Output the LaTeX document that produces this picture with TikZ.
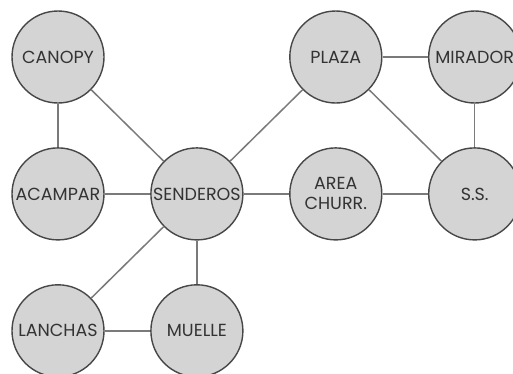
\documentclass[tikz,border=0pt]{standalone}
\usepackage{fontspec}
\setmainfont{Poppins}
\usetikzlibrary{positioning}
\definecolor{SpotFill}{HTML}{D4D4D4}
\definecolor{SpotLine}{HTML}{474747}
\definecolor{SpotText}{HTML}{333333}
\definecolor{TrailGray}{HTML}{7A7A7A}
\tikzset{
  spot/.style={circle, draw=SpotLine, fill=SpotFill, line width=1.4pt, minimum size=92pt, inner sep=0pt, align=center, text=SpotText, font=\fontsize{17.5}{20}\selectfont},
  trail/.style={draw=TrailGray, line width=1.5pt}
}
\begin{document}
\begin{tikzpicture}[x=1pt, y=-1pt, node distance=43.5pt and 45.5pt]
  \useasboundingbox[fill=white] (0,0) rectangle (513,373);
  \node[spot] (canopy) at (58,57) {CANOPY};
  \node[spot,below=of canopy] (acampar) {ACAMPAR};
  \node[spot,below=of acampar] (lanchas) {LANCHAS};
  \node[spot,right=of acampar] (senderos) {SENDEROS};
  \node[spot,right=of lanchas] (muelle) {MUELLE};
  \node[spot,right=of senderos] (area) {AREA\\CHURR.};
  \node[spot,right=of area] (ss) {S.S.};
  \node[spot,above=of area] (plaza) {PLAZA};
  \node[spot,above=of ss] (mirador) {MIRADOR};

  \draw[trail] (canopy) -- (acampar);
  \draw[trail] (canopy) -- (senderos);
  \draw[trail] (acampar) -- (senderos);
  \draw[trail] (senderos) -- (area);
  \draw[trail] (senderos) -- (plaza);
  \draw[trail] (senderos) -- (lanchas);
  \draw[trail] (senderos) -- (muelle);
  \draw[trail] (lanchas) -- (muelle);
  \draw[trail] (plaza) -- (mirador);
  \draw[trail] (plaza) -- (ss);
  \draw[trail] (mirador) -- (ss);
  \draw[trail] (area) -- (ss);
\end{tikzpicture}
\end{document}
